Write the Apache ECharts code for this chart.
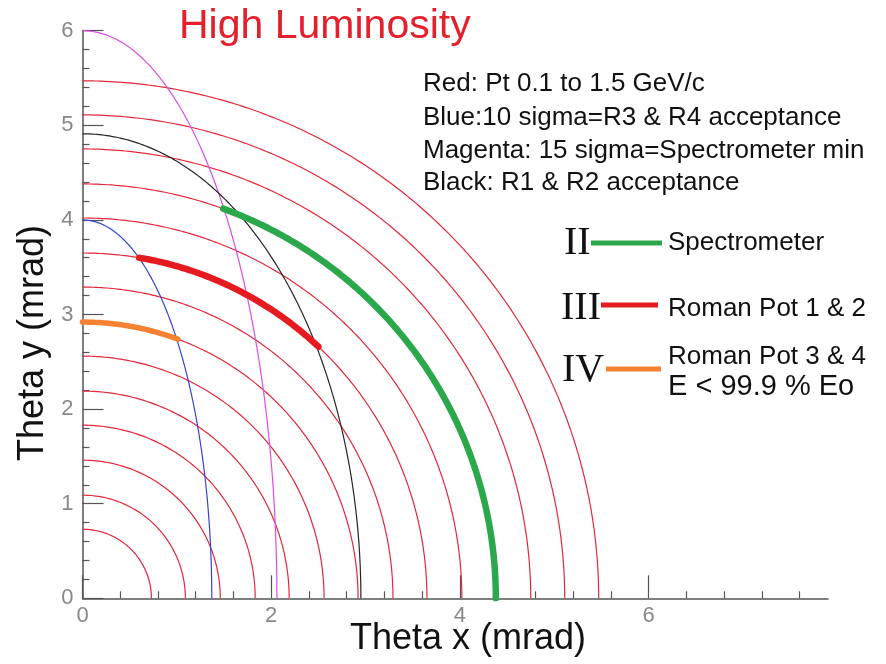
<!DOCTYPE html>
<html>
<head>
<meta charset="utf-8">
<script src="https://cdn.jsdelivr.net/npm/echarts@6/dist/echarts.min.js"></script>
<style>
  html, body { margin: 0; padding: 0; background: #fff; }
  #chart { width: 886px; height: 664px; }
</style>
</head>
<body>
<div id="chart"></div>
<script>
// Constant-Pt circles (Pt = 0.2 ... 1.5 GeV/c), radius in mrad
const ptRadii = [0.73, 1.09, 1.46, 1.83, 2.19, 2.56, 2.92, 3.29, 3.65, 4.02, 4.38, 4.75, 5.11, 5.47];

// Acceptance boundaries (quarter ellipses): semi-axis along theta x and theta y
const boundaryNames = ['Blue', 'Magenta', 'Black'];
const boundaryColors = ['#3543d6', '#dd4fe3', '#262626'];
const boundaryX = [1.37, 2.06, 2.95];
const boundaryY = [4.00, 6.00, 4.91];

// Accepted arcs: radius and theta-x range covered
const arcNames = ['Spectrometer', 'Roman Pot 1 & 2', 'Roman Pot 3 & 4'];
const arcColors = ['#2ca84c', '#e51b20', '#f58232'];
const arcRadius = [4.38, 3.65, 2.92];
const arcXStart = [1.49, 0.60, 0.00];
const arcXEnd = [4.38, 2.50, 1.01];

// Axis ticks
const xMajorTicks = [0, 2, 4, 6];
const xMinorTicks = [0.4, 0.8, 1.2, 1.6, 2.4, 2.8, 3.2, 3.6, 4.4, 4.8, 5.2, 5.6, 6.4, 6.8, 7.2, 7.6];
const yMajorTicks = [0, 1, 2, 3, 4, 5, 6];
const yMinorTicks = [0.2, 0.4, 0.6, 0.8, 1.2, 1.4, 1.6, 1.8, 2.2, 2.4, 2.6, 2.8,
                     3.2, 3.4, 3.6, 3.8, 4.2, 4.4, 4.6, 4.8, 5.2, 5.4, 5.6, 5.8];

// Sample a quarter ellipse between two polar angles (degrees)
function ellipsePoints(a, b, fromDeg, toDeg) {
  const pts = [];
  const steps = 180;
  for (let i = 0; i <= steps; i++) {
    const t = (fromDeg + (toDeg - fromDeg) * i / steps) * Math.PI / 180;
    pts.push([a * Math.cos(t), b * Math.sin(t)]);
  }
  return pts;
}

const series = [];

ptRadii.forEach(function (r) {
  series.push({
    type: 'line', showSymbol: false, silent: true, z: 2,
    lineStyle: { color: '#e2283a', width: 1.2 },
    data: ellipsePoints(r, r, 0, 90)
  });
});

boundaryNames.forEach(function (name, i) {
  series.push({
    name: name, type: 'line', showSymbol: false, silent: true, z: 3,
    lineStyle: { color: boundaryColors[i], width: 1.2 },
    data: ellipsePoints(boundaryX[i], boundaryY[i], 0, 90)
  });
});

arcNames.forEach(function (name, i) {
  const r = arcRadius[i];
  const a0 = Math.acos(Math.min(1, arcXStart[i] / r)) * 180 / Math.PI;
  const a1 = Math.acos(Math.min(1, arcXEnd[i] / r)) * 180 / Math.PI;
  series.push({
    name: name, type: 'line', showSymbol: false, silent: true, z: 4,
    lineStyle: { color: arcColors[i], width: i === 2 ? 5.5 : 6.5, cap: 'round' },
    data: ellipsePoints(r, r, a1, a0)
  });
});

const sans = '"Liberation Sans", Arial, sans-serif';
const serif = '"Liberation Serif", "Times New Roman", serif';

function label(text, x, y, size, opts) {
  return Object.assign({
    type: 'text', x: x, y: y, silent: true, z: 10,
    style: Object.assign({
      text: text, font: size + 'px ' + sans, fill: '#111',
      textAlign: 'left', textVerticalAlign: 'middle'
    }, (opts && opts.style) || {})
  }, (opts && opts.el) || {});
}

function legendLine(x1, x2, y, color) {
  return {
    type: 'line', silent: true, z: 10,
    shape: { x1: x1, y1: y, x2: x2, y2: y },
    style: { stroke: color, lineWidth: 5 }
  };
}

const graphics = [
  label('High Luminosity', 179, 27, 41, { style: { fill: '#e3202c' } }),
  label('Red: Pt 0.1 to 1.5 GeV/c', 423, 84, 26),
  label('Blue:10 sigma=R3 & R4 acceptance', 423, 117.5, 26),
  label('Magenta: 15 sigma=Spectrometer min', 423, 151, 26),
  label('Black: R1 & R2 acceptance', 423, 182.5, 26),

  label('II', 564, 243, 40, { style: { font: '40px ' + serif } }),
  legendLine(591, 662, 243, arcColors[0]),
  label(arcNames[0], 668, 243, 26),

  label('III', 561, 308, 40, { style: { font: '40px ' + serif } }),
  legendLine(601, 658, 305, arcColors[1]),
  label(arcNames[1], 668, 309, 26),

  label('IV', 562, 370, 40, { style: { font: '40px ' + serif } }),
  legendLine(606, 661, 369, arcColors[2]),
  label(arcNames[2], 668, 357, 26),
  label('E < 99.9 % Eo', 668, 387, 29),

  label('Theta x (mrad)', 468, 639, 36, { style: { textAlign: 'center' } }),
  label('Theta y (mrad)', 33, 343, 36, {
    style: { textAlign: 'center' },
    el: { rotation: Math.PI / 2 }
  })
];

const axisColor = '#555';
const tickLabel = { color: '#888', fontSize: 22, fontFamily: sans };

const option = {
  backgroundColor: '#fff',
  animation: false,
  grid: { left: 82.5, right: 58, top: 30.7, bottom: 65.7, containLabel: false, outerBoundsMode: 'none' },
  xAxis: [
    {
      type: 'value', min: 0, max: 7.9, position: 'bottom',
      axisLine: { show: true, lineStyle: { color: axisColor, width: 1.5 } },
      axisTick: { show: true, inside: true, length: 23, customValues: xMajorTicks, lineStyle: { color: axisColor, width: 1.2 } },
      axisLabel: Object.assign({ customValues: xMajorTicks, margin: 7 }, tickLabel),
      splitLine: { show: false }
    },
    {
      type: 'value', min: 0, max: 7.9, position: 'bottom',
      axisLine: { show: false },
      axisTick: { show: true, inside: true, length: 7, customValues: xMinorTicks, lineStyle: { color: axisColor, width: 1.2 } },
      axisLabel: { show: false },
      splitLine: { show: false }
    }
  ],
  yAxis: [
    {
      type: 'value', min: 0, max: 6, position: 'left',
      axisLine: { show: true, lineStyle: { color: axisColor, width: 1.5 } },
      axisTick: { show: true, inside: true, length: 21, customValues: yMajorTicks, lineStyle: { color: axisColor, width: 1.2 } },
      axisLabel: Object.assign({ customValues: yMajorTicks, margin: 9 }, tickLabel),
      splitLine: { show: false }
    },
    {
      type: 'value', min: 0, max: 6, position: 'left',
      axisLine: { show: false },
      axisTick: { show: true, inside: true, length: 7, customValues: yMinorTicks, lineStyle: { color: axisColor, width: 1.2 } },
      axisLabel: { show: false },
      splitLine: { show: false }
    }
  ],
  series: series,
  graphic: graphics
};

const chart = echarts.init(document.getElementById('chart'), null, { renderer: 'canvas' });
chart.setOption(option);
</script>
</body>
</html>
